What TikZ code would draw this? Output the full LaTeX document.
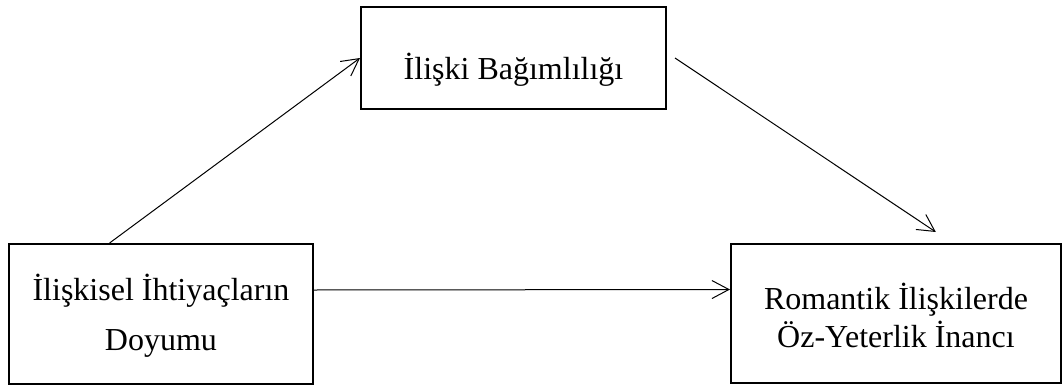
\documentclass[tikz,border=0pt]{standalone}
\usepackage{fontspec}
\setmainfont{Liberation Serif}
\usetikzlibrary{calc,arrows.meta}

\begin{document}
\begin{tikzpicture}[x=0.5pt,y=-0.5pt,
    boite/.style={draw, line width=1pt, inner sep=0pt},
    etiq/.style={font=\fontsize{16}{19.2}\selectfont, align=center, inner sep=0pt},
    fleche/.style={line width=0.5pt, -{Straight Barb[length=8.5pt,width=9pt]}}]
      \useasboundingbox (0,0) rectangle (1062,386);

      % BOITES
      \node[boite, minimum width=152.5pt, minimum height=51pt] (bag) at (513.5,58) {};
      \node[boite, minimum width=152pt, minimum height=70pt] (ihti) at (161,314) {};
      \node[boite, minimum width=165pt, minimum height=69.5pt] (oz) at (896,313.5) {};

      % TEXTES
      \node[etiq] (bagtxt) at ([yshift=-6pt]bag.center) {İlişki Bağımlılığı};
      \node[etiq] (ihtitxt) at ([yshift=-1pt]ihti.center) {İlişkisel İhtiyaçların\\[6pt]Doyumu};
      \node[etiq] (oztxt) at ([yshift=-1pt]oz.center) {Romantik İlişkilerde\\Öz-Yeterlik İnancı};

      \coordinate (P) at ($(ihti.north west)!0.332!(ihti.north east)$);
      \coordinate (Q) at ([xshift=4pt]bag.east);
      \coordinate (R) at ([yshift=5.5pt]$(oz.north west)!0.62!(oz.north east)$);

      % FLECHES
      \draw[fleche] (P) -- (bag.west);
      \draw[fleche] (Q) -- (R);
      \draw[fleche] ([yshift=12pt]ihti.east) -- ([yshift=12pt]oz.west);
\end{tikzpicture}
\end{document}
